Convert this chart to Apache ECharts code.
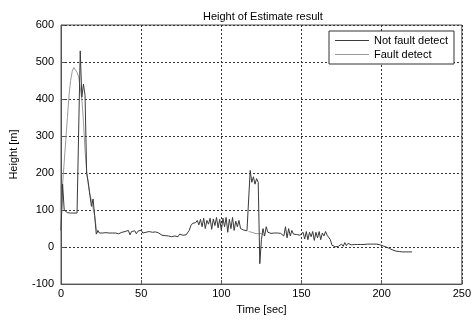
<!DOCTYPE html>
<html>
<head>
<meta charset="utf-8">
<script src="https://cdn.jsdelivr.net/npm/echarts@6/dist/echarts.min.js"></script>
<style>
  html, body { margin: 0; padding: 0; background: #fff; }
  #chart { width: 474px; height: 320px; }
</style>
</head>
<body>
<div id="chart"></div>
<script>
// sampled once per second, starting at t = 0
const notFault = [
  45, 170, 100, 98, 93, 92, 92, 92, 92, 92,
  92, 94, 530, 405, 440, 410, 200, 175, 140, 110,
  130, 85, 35, 45, 38, 40, 38, 38, 39, 38,
  38, 37, 38, 37, 38, 38, 36, 39, 40, 35,
  42, 37, 45, 33, 42, 38, 44, 36, 43, 38,
  46, 38, 42, 40, 41, 42, 40, 40, 42, 41,
  40, 38, 36, 32, 33, 31, 33, 30, 34, 28,
  33, 30, 34, 28, 35, 30, 32, 32, 33, 36,
  45, 58, 64, 66, 66, 72, 60, 75, 55, 78,
  50, 72, 62, 78, 48, 76, 58, 80, 52, 75,
  45, 78, 55, 80, 40, 75, 50, 80, 45, 70,
  55, 72, 50, 48, 46, 45, 44, 42, 207, 175,
  190, 170, 185, 175, -45, 20, 50, 30, 55, 40,
  38, 37, 38, 38, 37, 38, 38, 37, 36, 30,
  55, 25, 50, 30, 45, 35, 35, 34, 33, 32,
  30, 40, 22, 42, 20, 40, 28, 42, 18, 40,
  25, 42, 20, 38, 30, 42, 32, 35, 20, 5,
  2, 1, 1, 2, 3, 8, 2, 12, 4, 10,
  5, 6, 5, 7, 6, 7, 7, 7, 8, 7,
  8, 8, 9, 8, 10, 8, 12, 8, 10, 6,
  5, 3, 2, 0, -2, -4, -6, -8, -10, -11,
  -12, -12, -13, -13, -13, -13, -13, -13, -13, -13
];

// fault-detect estimate, where it differs from the plain one
const faultEarlyStart = 0;
const faultEarly = [
  45, 170, 230, 290, 350, 410, 450, 475, 485, 483,
  472, 460, 430, 400, 340, 260, 205, 170, 145, 125,
  105, 85, 50, 38
];
const faultMidStart = 117;
const faultMid = [42, 42, 40, 38, 37, 37, 36, 36, 37, 38, 30];

const xTicks = { min: 0, max: 250, step: 50 };
const yTicks = { min: -100, max: 600, step: 100 };

const darkData = notFault.map((v, i) => [i, v]);
const lightData = faultEarly.map((v, i) => [faultEarlyStart + i, v])
  .concat([[faultEarlyStart + faultEarly.length, '-']])
  .concat(faultMid.map((v, i) => [faultMidStart + i, v]));

const font = '"Liberation Sans", Arial, sans-serif';
const chart = echarts.init(document.getElementById('chart'), null, { renderer: 'canvas' });

chart.setOption({
  animation: false,
  backgroundColor: '#fff',
  title: {
    text: 'Height of Estimate result',
    left: 198,
    top: 6,
    textStyle: { fontFamily: font, fontSize: 11, fontWeight: 'normal', color: '#000' }
  },
  legend: {
    data: ['Not fault detect', 'Fault detect'],
    orient: 'vertical',
    left: 329,
    top: 31,
    padding: [4, 6, 4, 6],
    itemGap: 3,
    itemWidth: 34,
    itemHeight: 1,
    icon: 'rect',
    backgroundColor: '#fff',
    borderColor: '#333',
    borderWidth: 1,
    borderRadius: 0,
    textStyle: { fontFamily: font, fontSize: 11, color: '#000', padding: [0, 0, 0, 0] }
  },
  grid: {
    left: 60, right: 4, top: 25, bottom: 31,
    show: true, borderColor: '#555', borderWidth: 1, backgroundColor: 'transparent'
  },
  xAxis: {
    type: 'value',
    min: xTicks.min, max: xTicks.max, interval: xTicks.step,
    name: 'Time [sec]',
    nameLocation: 'middle',
    nameGap: 14,
    nameTextStyle: { fontFamily: font, fontSize: 11, color: '#000' },
    axisLine: { show: true, onZero: false, lineStyle: { color: '#555' } },
    axisTick: { show: true, inside: true, length: 4, lineStyle: { color: '#555' } },
    axisLabel: { fontFamily: font, fontSize: 11, color: '#000', margin: 4 },
    splitLine: { show: true, lineStyle: { color: '#333', type: [2, 2], width: 1 } }
  },
  yAxis: {
    type: 'value',
    min: yTicks.min, max: yTicks.max, interval: yTicks.step,
    name: 'Height [m]',
    nameLocation: 'middle',
    nameGap: 42,
    nameTextStyle: { fontFamily: font, fontSize: 11, color: '#000' },
    axisLine: { show: true, onZero: false, lineStyle: { color: '#555' } },
    axisTick: { show: true, inside: true, length: 4, lineStyle: { color: '#555' } },
    axisLabel: { fontFamily: font, fontSize: 11, color: '#000', margin: 7 },
    splitLine: { show: true, lineStyle: { color: '#333', type: [2, 2], width: 1 } }
  },
  series: [
    {
      name: 'Not fault detect',
      type: 'line',
      data: darkData,
      showSymbol: false,
      symbol: 'none',
      z: 3,
      color: '#3a3a3a',
      lineStyle: { color: '#3a3a3a', width: 1 }
    },
    {
      name: 'Fault detect',
      type: 'line',
      data: lightData,
      showSymbol: false,
      symbol: 'none',
      connectNulls: false,
      z: 2,
      color: '#9a9a9a',
      lineStyle: { color: '#9a9a9a', width: 1 }
    }
  ]
});
</script>
</body>
</html>
